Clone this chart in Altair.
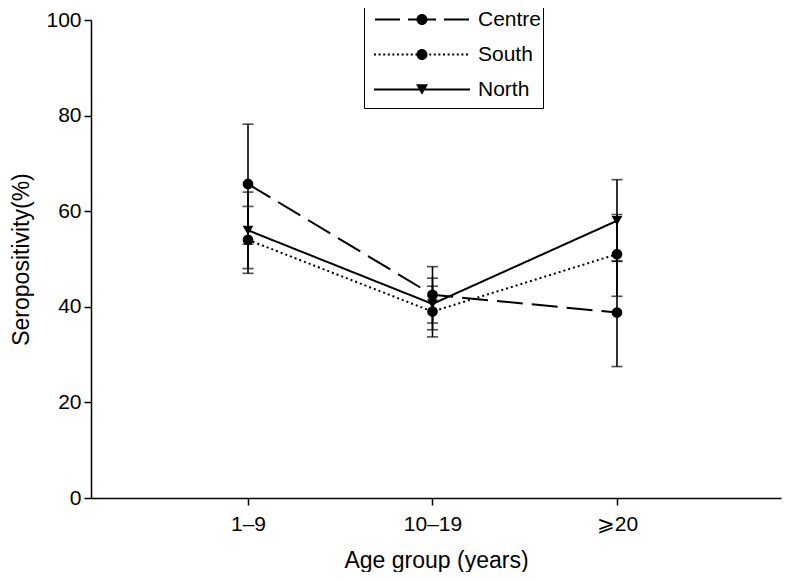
import altair as alt
import pandas as pd

categories = ["1\u20139", "10\u201319", "\u2a7e20"]
positions = [1, 2, 3]
series = ["Centre", "South", "North"]

centre = [65.7, 42.5, 38.8]
centre_lo = [53.1, 36.6, 27.5]
centre_hi = [78.2, 48.4, 49.6]

south = [54.0, 39.0, 51.0]
south_lo = [47.0, 33.7, 42.2]
south_hi = [61.0, 44.3, 59.3]

north = [56.0, 40.6, 58.0]
north_lo = [48.0, 35.2, 49.5]
north_hi = [64.0, 46.0, 66.6]

vals = {"Centre": (centre, centre_lo, centre_hi),
        "South": (south, south_lo, south_hi),
        "North": (north, north_lo, north_hi)}

rows = []
for s in series:
    v, lo, hi = vals[s]
    for i, c in enumerate(categories):
        rows.append({"series": s, "cat": c, "pos": positions[i],
                     "val": v[i], "lo": lo[i], "hi": hi[i]})
df = pd.DataFrame(rows)

FONT = "Liberation Sans"
label_expr = "[" + ",".join("'%s'" % c for c in categories) + "][datum.value - 1]"

x_enc = alt.X("pos:Q",
              scale=alt.Scale(domain=[0.149, 3.889], nice=False, zero=False),
              axis=alt.Axis(values=positions, labelExpr=label_expr,
                            title="Age group (years)", grid=False))
y_axis = alt.Axis(values=[0, 20, 40, 60, 80, 100], title="Seropositivity(%)", grid=False)
y_scale = alt.Scale(domain=[0, 100], nice=False)

base = alt.Chart(df)

errbars = base.mark_errorbar(ticks={"size": 11}, color="black", thickness=1.6).encode(
    x=x_enc,
    y=alt.Y("lo:Q", scale=y_scale, axis=y_axis, title="Seropositivity(%)"),
    y2="hi:Q",
    detail="series:N",
)

dash_ranges = [[26, 9], [2, 3], [1, 0]]
lines = base.mark_line(color="black", strokeWidth=2).encode(
    x=x_enc,
    y=alt.Y("val:Q", scale=y_scale, axis=y_axis),
    strokeDash=alt.StrokeDash("series:N", scale=alt.Scale(domain=series, range=dash_ranges), legend=None),
    detail="series:N",
)

points = base.mark_point(filled=True, color="black", size=115, opacity=1).encode(
    x=x_enc,
    y=alt.Y("val:Q", scale=y_scale, axis=y_axis),
    shape=alt.Shape("series:N", scale=alt.Scale(domain=series, range=["circle", "circle", "triangle-down"]), legend=None),
)

# custom legend symbols: line style (thin filled bars) + marker; unit 1 = half the symbol width
HALF = 48.0
TH = 1.0 / HALF  # half thickness of the line bars

def seg_path(segs, th=TH):
    return "".join("M%.4f,%.4fH%.4fV%.4fH%.4fZ" % (a / HALF, -th, b / HALF, th, a / HALF)
                   for a, b in segs)

def dashed(dash, gap, middle):
    segs = [(-middle / 2, middle / 2)]
    x = middle / 2 + gap
    while x < HALF:
        segs.append((x, min(x + dash, HALF)))
        segs.append((-min(x + dash, HALF), -x))
        x += dash + gap
    return seg_path(segs)

def dotted(dot, gap):
    segs = []
    x = -HALF
    while x < HALF:
        segs.append((x, min(x + dot, HALF)))
        x += dot + gap
    return seg_path(segs)

r = 5.5 / HALF
circle = "M%.4f,0A%.4f,%.4f 0 1,1 %.4f,0A%.4f,%.4f 0 1,1 %.4f,0Z" % (r, r, r, -r, r, r, r)
tw, th = 6.0 / HALF, 5.2 / HALF
tri = "M%.4f,%.4fL%.4f,%.4fL0,%.4fZ" % (-tw, -th, tw, -th, th)

legend_paths = [dashed(25, 8, 28) + circle, dotted(2, 2.6) + circle, seg_path([(-HALF, HALF)]) + tri]

legend_layer = base.mark_point(filled=True, color="black", opacity=1).encode(
    x=x_enc,
    y=alt.Y("val:Q", scale=y_scale, axis=y_axis),
    shape=alt.Shape("series:N", scale=alt.Scale(domain=series, range=legend_paths),
                    legend=alt.Legend(title=None, orient="none", legendX=273, legendY=-19,
                                      symbolSize=HALF * HALF * 4, clipHeight=35,
                                      symbolStrokeWidth=0, symbolFillColor="black",
                                      symbolOpacity=1, symbolOffset=9,
                                      labelOffset=8, rowPadding=0, padding=1,
                                      strokeColor="black", fillColor="white",
                                      labelFont=FONT, labelFontSize=21, labelColor="black")),
).transform_filter("false")

chart = alt.layer(errbars, lines, points, legend_layer).resolve_scale(
    shape="independent"
).properties(
    width=690, height=478,
    padding={"left": 83, "top": 12, "right": 2, "bottom": 74},
    autosize=alt.AutoSizeParams(type="none"),
    background="white",
).configure_view(stroke=None).configure_axis(
    domainColor="black", domainWidth=1.5, tickColor="black", tickWidth=1.5, tickSize=7,
    labelFont=FONT, labelFontSize=21, labelColor="black",
    titleFont=FONT, titleFontSize=23, titleFontWeight="normal", titleColor="black",
).configure_axisX(labelPadding=8, titlePadding=15).configure_axisY(labelPadding=3, titlePadding=12)

chart.save("out.html", embed_options={"renderer": "svg", "actions": False})
